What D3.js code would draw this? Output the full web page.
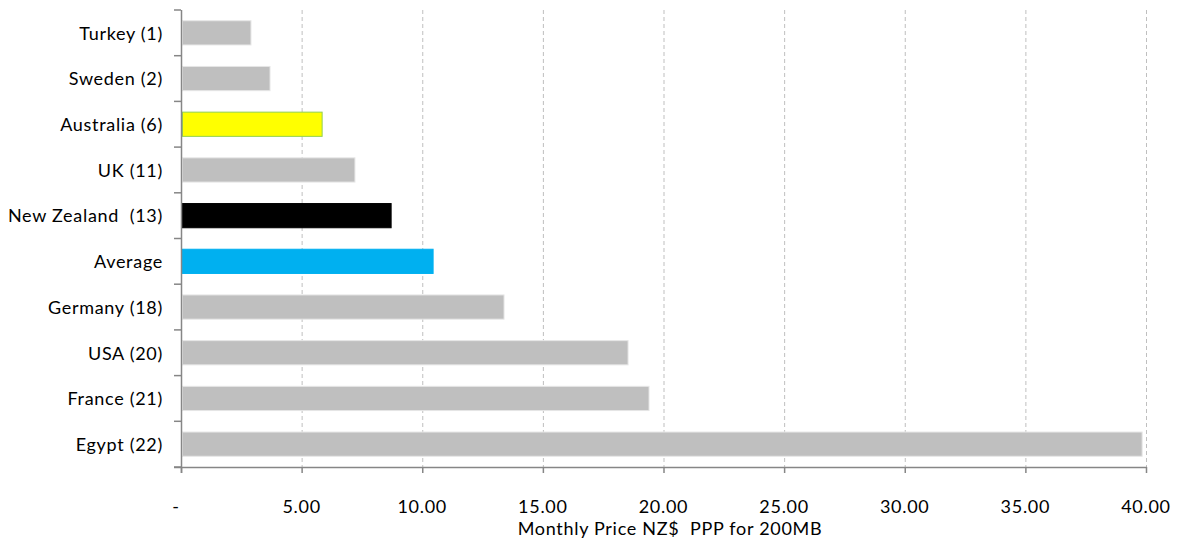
<!DOCTYPE html>
<html>
<head>
<meta charset="utf-8">
<script src="https://cdn.jsdelivr.net/npm/d3@7"></script>
<style>
  html, body { margin: 0; padding: 0; background: #fff; }
  svg { display: block; }
  text { font-family: Lato, "Open Sans", "Liberation Sans", sans-serif; fill: #000; white-space: pre; letter-spacing: 0.7px; }
</style>
</head>
<body>
<svg id="chart" width="1179" height="542"></svg>
<script>
const categories = ["Turkey (1)", "Sweden (2)", "Australia (6)", "UK (11)", "New Zealand  (13)",
                    "Average", "Germany (18)", "USA (20)", "France (21)", "Egypt (22)"];
const values = [2.90, 3.69, 5.85, 7.21, 8.71, 10.45, 13.39, 18.53, 19.40, 39.84];
const fills = ["#BFBFBF", "#BFBFBF", "#FFFF00", "#BFBFBF", "#000000",
               "#00B0F0", "#BFBFBF", "#BFBFBF", "#BFBFBF", "#BFBFBF"];
const strokes = ["#E6E6E6", "#E6E6E6", "#92D050", "#E6E6E6", "#000000",
                 "#00B0F0", "#E6E6E6", "#E6E6E6", "#E6E6E6", "#E6E6E6"];
const xTicks = [0, 5, 10, 15, 20, 25, 30, 35, 40];
const xTickLabels = ["-", "5.00", "10.00", "15.00", "20.00", "25.00", "30.00", "35.00", "40.00"];
const xTitle = "Monthly Price NZ$  PPP for 200MB";

(function () {
const svg = d3.select("#chart");
const pLeft = 181, pRight = 1146, pTop = 10, pBottom = 467;
const fs = 18;

const x = d3.scaleLinear().domain([0, 40]).range([pLeft, pRight]);
const y = d3.scaleBand().domain(categories).range([pTop, pBottom])
  .paddingInner(0.47).paddingOuter(0.235);

// gridlines
svg.append("g").selectAll("line").data(xTicks.filter(d => d > 0)).join("line")
  .attr("x1", d => x(d) + 0.5).attr("x2", d => x(d) + 0.5)
  .attr("y1", pTop).attr("y2", pBottom)
  .attr("stroke", "#BFBFBF").attr("stroke-width", 1).attr("stroke-dasharray", "4,3");

// bars
svg.append("g").selectAll("rect").data(categories).join("rect")
  .attr("x", x(0) + 1.5)
  .attr("y", d => y(d))
  .attr("width", (d, i) => x(values[i]) - x(0) - 1.5)
  .attr("height", y.bandwidth())
  .attr("fill", (d, i) => fills[i])
  .attr("stroke", (d, i) => strokes[i])
  .attr("stroke-width", 1);

// y axis line and ticks at band boundaries
const axisColor = "#868686";
const step = y.step();
const boundaries = d3.range(categories.length + 1).map(i => pTop + i * step);
svg.append("line").attr("x1", pLeft + 0.5).attr("x2", pLeft + 0.5)
  .attr("y1", pTop).attr("y2", pBottom + 6)
  .attr("stroke", axisColor).attr("stroke-width", 1.5);
svg.append("g").selectAll("line").data(boundaries).join("line")
  .attr("x1", pLeft - 7).attr("x2", pLeft)
  .attr("y1", d => d).attr("y2", d => d)
  .attr("stroke", axisColor).attr("stroke-width", 1.5);

// x axis line and ticks
svg.append("line").attr("x1", pLeft - 7).attr("x2", pRight + 1)
  .attr("y1", pBottom + 0.5).attr("y2", pBottom + 0.5)
  .attr("stroke", axisColor).attr("stroke-width", 1.5);
svg.append("g").selectAll("line").data(xTicks).join("line")
  .attr("x1", d => x(d) + 0.5).attr("x2", d => x(d) + 0.5)
  .attr("y1", pBottom).attr("y2", pBottom + 6)
  .attr("stroke", axisColor).attr("stroke-width", 1.5);

// y labels
svg.append("g").selectAll("text").data(categories).join("text")
  .attr("x", 163)
  .attr("y", d => y(d) + y.bandwidth() / 2)
  .attr("dy", "0.38em")
  .attr("text-anchor", "end")
  .attr("font-size", fs)
  .text(d => d);

// x labels
svg.append("g").selectAll("text").data(xTicks).join("text")
  .attr("x", (d, i) => i === 0 ? x(d) - 5 : x(d))
  .attr("y", 513)
  .attr("text-anchor", "middle")
  .attr("font-size", fs)
  .text((d, i) => xTickLabels[i]);

// x title
svg.append("text")
  .attr("x", 670)
  .attr("y", 535)
  .attr("text-anchor", "middle")
  .attr("font-size", fs)
  .text(xTitle);
})();
</script>
</body>
</html>
